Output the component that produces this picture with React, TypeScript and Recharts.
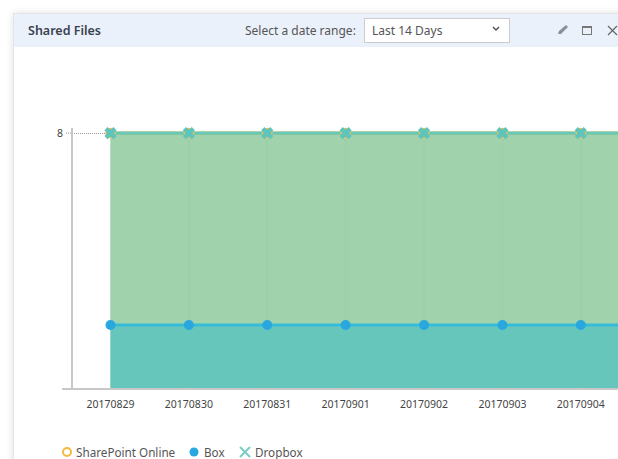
import React from "react";
import { AreaChart, Area, XAxis, YAxis, ReferenceLine, Legend } from "recharts";

const dates = [
  "20170829", "20170830", "20170831", "20170901", "20170902", "20170903", "20170904",
  "20170905", "20170906", "20170907", "20170908", "20170909", "20170910", "20170911",
];
const sharePointValues = [8, 8, 8, 8, 8, 8, 8, 8, 8, 8, 8, 8, 8, 8];
const boxValues = [2, 2, 2, 2, 2, 2, 2, 2, 2, 2, 2, 2, 2, 2];
const dropboxValues = [8, 8, 8, 8, 8, 8, 8, 8, 8, 8, 8, 8, 8, 8];
const yTicks = [8];

const data = dates.map((date, i) => ({
  date,
  sharePoint: sharePointValues[i],
  box: boxValues[i],
  dropbox: dropboxValues[i],
}));

const FONT = '"Noto Sans", sans-serif';

function RingDot({ cx, cy }: any) {
  return <circle cx={cx} cy={cy} r={4.5} fill="#5EC4BC" stroke="#F5C04D" strokeWidth={1.5} />;
}

function BlueDot({ cx, cy }: any) {
  return <circle cx={cx} cy={cy} r={5} fill="#29A8E0" />;
}

function CrossDot({ cx, cy }: any) {
  const r = 4.5;
  return (
    <path
      d={`M${cx - r},${cy - r}L${cx + r},${cy + r}M${cx + r},${cy - r}L${cx - r},${cy + r}`}
      stroke="#5EC4BC"
      strokeWidth={4.5}
      fill="none"
    />
  );
}

function ChartLegend() {
  return (
    <div style={{ position: "relative", width: 400, height: 15, fontFamily: FONT, fontSize: 11.7, lineHeight: "14px", color: "#555" }}>
      <svg width={270} height={15} style={{ position: "absolute", left: 0, top: 0 }}>
        <circle cx={67} cy={8} r={4} fill="none" stroke="#F5B93D" strokeWidth={2} />
        <circle cx={194} cy={8} r={4.5} fill="#29A8E0" />
        <path d="M240,3L250,13M250,3L240,13" stroke="#7CCDC2" strokeWidth={2} fill="none" />
      </svg>
      <span style={{ position: "absolute", left: 76, top: 1 }}>SharePoint Online</span>
      <span style={{ position: "absolute", left: 204, top: 1 }}>Box</span>
      <span style={{ position: "absolute", left: 255, top: 1 }}>Dropbox</span>
    </div>
  );
}

function Header() {
  return (
    <div
      style={{
        position: "absolute", left: 14, top: 14, width: 604, height: 33,
        background: "#EAF1FA", fontFamily: FONT, color: "#444",
      }}
    >
      <span style={{ position: "absolute", left: 14, top: 8, fontSize: 12.5, fontWeight: 600, color: "#3B4250" }}>
        Shared Files
      </span>
      <span style={{ position: "absolute", left: 231, top: 8, fontSize: 12, color: "#555" }}>
        Select a date range:
      </span>
      <div
        style={{
          position: "absolute", left: 350, top: 4, width: 144, height: 23,
          background: "#fff", border: "1px solid #ccc", fontSize: 12, color: "#555",
        }}
      >
        <span style={{ position: "absolute", left: 7, top: 3 }}>Last 14 Days</span>
      </div>
      <svg width={604} height={33} style={{ position: "absolute", left: 0, top: 0 }}>
        <path d="M479,13L482,16L485,13" stroke="#555" strokeWidth={1.5} fill="none" />
        <path d="M544,20L545,17L552,11L554,13L547,20Z" fill="#8a8f98" />
        <rect x={568.5} y={12.5} width={9} height={8} fill="none" stroke="#777" strokeWidth={1} />
        <line x1={568.5} x2={577.5} y1={13.5} y2={13.5} stroke="#777" />
        <path d="M594,12L603,21M603,12L594,21" stroke="#666" strokeWidth={1.2} fill="none" />
      </svg>
    </div>
  );
}

export default function App() {
  return (
    <div
      style={{
        position: "fixed", left: 0, top: 0, width: 618, height: 459,
        overflow: "hidden", background: "#fff",
      }}
    >
      <div
        style={{
          position: "absolute", left: 13, top: 13, width: 700, height: 600,
          border: "1px solid #e4e4e4", boxShadow: "0 0 8px rgba(0,0,0,0.12)", boxSizing: "border-box",
        }}
      />
      <Header />
      <div style={{ position: "absolute", left: 0, top: 0 }}>
        <AreaChart
          width={1168}
          height={459}
          data={data}
          margin={{ top: 128, right: 0, left: 0, bottom: 25 }}
        >
          <XAxis
            dataKey="date"
            padding={{ left: 38.5, right: 38.5 }}
            interval={0}
            height={30}
            tickLine={false}
            axisLine={{ stroke: "#C8C8C8", strokeWidth: 2 }}
            tick={{ fill: "#444", fontSize: 10.5, fontFamily: FONT }}
            tickMargin={6}
          />
          <YAxis
            width={72}
            domain={[0, 8.16]}
            ticks={yTicks}
            axisLine={{ stroke: "#C8C8C8", strokeWidth: 2 }}
            tickLine={{ stroke: "#999", strokeDasharray: "1 1" }}
            tickSize={6}
            tick={{ fill: "#444", fontSize: 10.5, fontFamily: FONT, dx: -1 }}
          />
          {/* x axis line runs a little past the y axis on the left, dotted guide up to the first point */}
          <line x1={62} x2={72} y1={389} y2={389} stroke="#C8C8C8" strokeWidth={2} />
          <line x1={72} x2={108} y1={133.5} y2={133.5} stroke="#999" strokeDasharray="1 1" />
          <Area
            type="linear"
            dataKey="sharePoint"
            name="SharePoint Online"
            stroke="#F5B93D"
            strokeWidth={3}
            fill="#FFC533"
            fillOpacity={0.35}
            dot={<RingDot />}
            activeDot={false}
            isAnimationActive={false}
          />
          <Area
            type="linear"
            dataKey="dropbox"
            name="Dropbox"
            stroke="#68C8BA"
            strokeWidth={3}
            fill="#41B9A0"
            fillOpacity={0.5}
            dot={<CrossDot />}
            activeDot={false}
            isAnimationActive={false}
          />
          <Area
            type="linear"
            dataKey="box"
            name="Box"
            stroke="#36BCD8"
            strokeWidth={3}
            fill="#2CBACC"
            fillOpacity={0.5}
            dot={<BlueDot />}
            activeDot={false}
            isAnimationActive={false}
          />
          {dates.map((d) => (
            <ReferenceLine
              key={d}
              segment={[{ x: d, y: 0 }, { x: d, y: 7.9 }]}
              stroke="#6FC49A"
              strokeOpacity={0.4}
              strokeDasharray="1 1"
            />
          ))}
          <Legend
            content={<ChartLegend />}
            wrapperStyle={{ position: "absolute", left: 0, top: 444, width: 400, height: 15 }}
          />
        </AreaChart>
      </div>
    </div>
  );
}
